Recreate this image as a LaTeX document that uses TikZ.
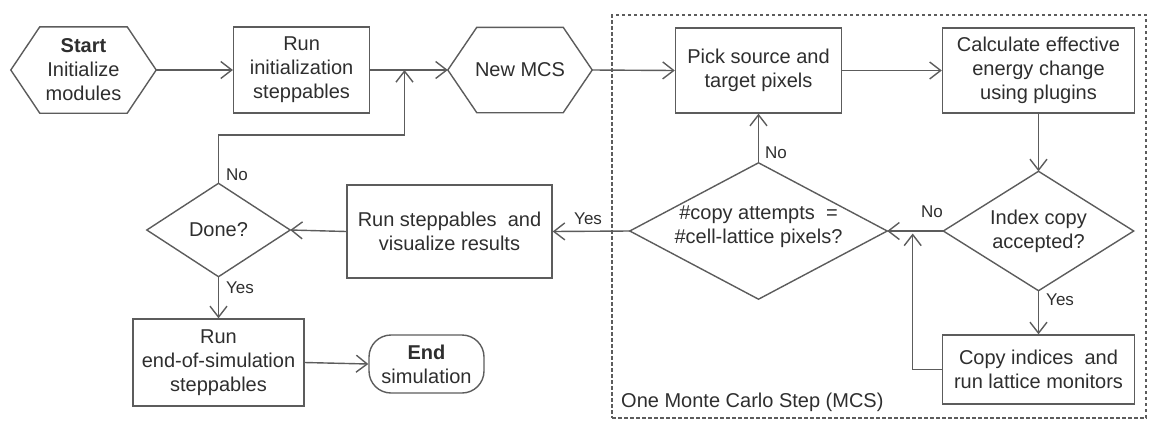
\documentclass[tikz,border=0pt]{standalone}
\usepackage{fontspec}
\setmainfont{Liberation Sans}
\usetikzlibrary{arrows.meta,calc}
\definecolor{ln}{HTML}{5C5C5C}
\definecolor{tx}{HTML}{2E2E2E}
\begin{document}
\begin{tikzpicture}[x=1pt,y=-1pt,
  every node/.style={text=tx, font=\fontsize{20}{24}\selectfont, align=center, inner sep=0pt},
  rbox/.style={draw=ln, line width=1.4pt, rectangle},
  shp/.style={rectangle, draw=none},
  outl/.style={draw=ln, line width=1.4pt, line join=miter},
  arr/.style={draw=ln, line width=1.4pt, -{Straight Barb[length=11pt,width=17pt,line width=1.4pt]}},
  lbl/.style={font=\fontsize{17}{20}\selectfont},
  frame/.style={draw=ln, line width=1.2pt, dash pattern=on 3.5pt off 2.5pt}]
\useasboundingbox (0,0) rectangle (1150,421);

% frame
\node[frame, minimum width=534pt, minimum height=403pt] (mcs) at (879,216.5) {};
\node[anchor=west] (mcslbl) at (621,402) {One Monte Carlo Step (MCS)};

% nodes
\node[shp, minimum width=145pt, minimum height=86pt] (start) at (83.5,70) {\textbf{Start}\\Initialize\\modules};
\draw[outl] (start.west) -- ([xshift=29pt]start.north west) -- ([xshift=-29pt]start.north east) -- (start.east) -- ([xshift=-29pt]start.south east) -- ([xshift=29pt]start.south west) -- cycle;

\node[rbox, minimum width=136pt, minimum height=86pt] (runinit) at (301.6,70) {Run\\initialization\\steppables};

\node[shp, minimum width=144pt, minimum height=85pt] (newmcs) at (520,70) {New MCS};
\draw[outl] (newmcs.west) -- ([xshift=29pt]newmcs.north west) -- ([xshift=-29pt]newmcs.north east) -- (newmcs.east) -- ([xshift=-29pt]newmcs.south east) -- ([xshift=29pt]newmcs.south west) -- cycle;

\node[rbox, minimum width=166pt, minimum height=85pt] (pick) at (758.5,70.5) {Pick source and\\target pixels};
\node[rbox, minimum width=192pt, minimum height=85pt] (calc) at (1038.5,70.5) {Calculate effective\\energy change\\using plugins};

\node[shp, minimum width=257pt, minimum height=136pt] (copyd) at (758.5,231) {};
\draw[outl] (copyd.west) -- (copyd.north) -- (copyd.east) -- (copyd.south) -- cycle;
\node (copydtxt) at (758.5,227) {\#copy attempts \ =\\\#cell-lattice pixels?};

\node[shp, minimum width=190pt, minimum height=119pt] (index) at (1038.5,231) {Index copy\\accepted?};
\draw[outl] (index.west) -- (index.north) -- (index.east) -- (index.south) -- cycle;

\node[rbox, minimum width=192pt, minimum height=69pt] (copybox) at (1038.5,369.5) {Copy indices \ and\\run lattice monitors};

\node[rbox, minimum width=205pt, minimum height=93pt] (runstep) at (449.5,231.5) {Run steppables \ and\\visualize results};

\node[shp, minimum width=143pt, minimum height=93pt] (done) at (218.5,230) {Done?};
\draw[outl] (done.west) -- (done.north) -- (done.east) -- (done.south) -- cycle;

\node[rbox, minimum width=171pt, minimum height=87pt] (endsim) at (218.5,362.5) {Run\\end-of-simulation\\steppables};

\node[rbox, rounded corners=22pt, minimum width=115pt, minimum height=58pt] (end) at (426.5,364) {\textbf{End}\\simulation};

% helper coordinates
\coordinate (j) at (404.5,70);
\coordinate (jb) at (404.5,135);
\coordinate (kb) at (912.7,369.5);
\coordinate (k) at (912.7,233.5);

% connectors
\draw[arr] (start.east) -- (runinit.west);
\draw[arr] (runinit.east) -- (newmcs.west);
\draw[arr] (done.north) |- (jb) -- (j);
\draw[arr] (newmcs.east) -- (pick.west);
\draw[arr] (pick.east) -- (calc.west);
\draw[arr] (calc.south) -- (index.north);
\draw[arr] (index.west) -- (copyd.east);
\draw[arr] (index.south) -- (copybox.north);
\draw[arr] (copybox.west) -- (kb) -- (k);
\draw[arr] (copyd.north) -- (pick.south);
\draw[arr] (copyd.west) -- (runstep.east);
\draw[arr] (runstep.west) -- (done.east);
\draw[arr] (done.south) -- (endsim.north);
\draw[arr] (endsim.east) -- (end.west);

% labels
\node[lbl, anchor=west] (lno1) at (226,175) {No};
\node[lbl, anchor=west] (lyes1) at (226,288) {Yes};
\node[lbl, anchor=west] (lno2) at (765,153) {No};
\node[lbl, anchor=west] (lno3) at (921,212) {No};
\node[lbl, anchor=west] (lyes2) at (574,219) {Yes};
\node[lbl, anchor=west] (lyes3) at (1046,300) {Yes};
\end{tikzpicture}
\end{document}
